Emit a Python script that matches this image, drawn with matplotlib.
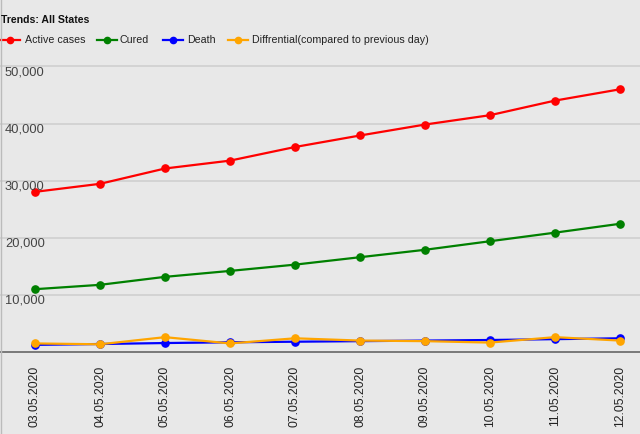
import matplotlib
matplotlib.use("Agg")
import matplotlib.pyplot as plt
from matplotlib.lines import Line2D

dates = ["03.05.2020", "04.05.2020", "05.05.2020", "06.05.2020", "07.05.2020",
         "08.05.2020", "09.05.2020", "10.05.2020", "11.05.2020", "12.05.2020"]
active = [28046, 29453, 32138, 33514, 35902, 37916, 39834, 41472, 44029, 46008]
cured = [11000, 11762, 13161, 14200, 15300, 16600, 17900, 19400, 20900, 22454]
death = [1250, 1400, 1570, 1700, 1800, 1900, 2000, 2100, 2250, 2400]
diff = [1500, 1350, 2600, 1500, 2400, 2000, 1900, 1650, 2600, 2000]

series_names = ["Active cases", "Cured", "Death", "Diffrential(compared to previous day)"]
series_colors = ["#ff0000", "#008000", "#0000ff", "#ffa500"]
series_vals = [active, cured, death, diff]
yticks = [10000, 20000, 30000, 40000, 50000]

bg = "#e8e8e8"
plt.rcParams['font.family'] = ['Liberation Sans', 'DejaVu Sans']

W, H = 640, 434
fig = plt.figure(figsize=(W / 100, H / 100), dpi=100, facecolor=bg)
ax_bottom, ax_top = 352, 55
ax = fig.add_axes([0, (H - ax_bottom) / H, 1, (ax_bottom - ax_top) / H])
ax.set_facecolor(bg)

x = list(range(len(dates)))
for name, col, vals in zip(series_names, series_colors, series_vals):
    ax.plot(x, vals, color=col, lw=1.6, marker='o', ms=5.2, label=name, zorder=3)

ax.set_xlim(-35 / 65, 9 + 20 / 65)
ax.set_ylim(0, (ax_bottom - ax_top) / 57.1 * 10000)

for s in ["top", "left", "right"]:
    ax.spines[s].set_visible(False)
ax.spines["bottom"].set_color("#666666")
ax.spines["bottom"].set_linewidth(1.2)

ax.set_yticks(yticks)
ax.yaxis.grid(True, color="#cfcfcf", lw=1.2)
ax.set_axisbelow(True)
ax.tick_params(axis='y', length=0, labelleft=False)
for v in yticks:
    ax.text(5 / 640, v, f"{v:,}", transform=ax.get_yaxis_transform(), ha='left', va='top',
            fontsize=9.3, color="#444444")

ax.set_xticks(x)
ax.set_xticklabels(dates, rotation=90, fontsize=8.8, color="#222222")
ax.tick_params(axis='x', length=0, pad=10)
for lbl in ax.get_xticklabels():
    lbl.set_va('top')

fig.text(1 / W, 1 - 20 / H, "Trends: All States", fontsize=7.6, fontweight='bold',
         ha='left', va='center', color="#111111")

leg_y = 1 - 40 / H
line_starts = [0, 97, 163, 228]
text_starts = [25, 120, 187, 252]
for st, tx, name, col in zip(line_starts, text_starts, series_names, series_colors):
    fig.add_artist(Line2D([st / W, (st + 20) / W], [leg_y, leg_y], color=col, lw=1.6,
                          transform=fig.transFigure))
    fig.add_artist(Line2D([(st + 10) / W], [leg_y], color=col, marker='o', ms=4.5,
                          transform=fig.transFigure))
    fig.text(tx / W, leg_y, name, fontsize=7.7, ha='left', va='center', color="#222222")

fig.add_artist(Line2D([1 / W, 1 / W], [0, 1], color="#bbbbbb", lw=1, transform=fig.transFigure))

fig.savefig("out.png", dpi=100, facecolor=bg)
